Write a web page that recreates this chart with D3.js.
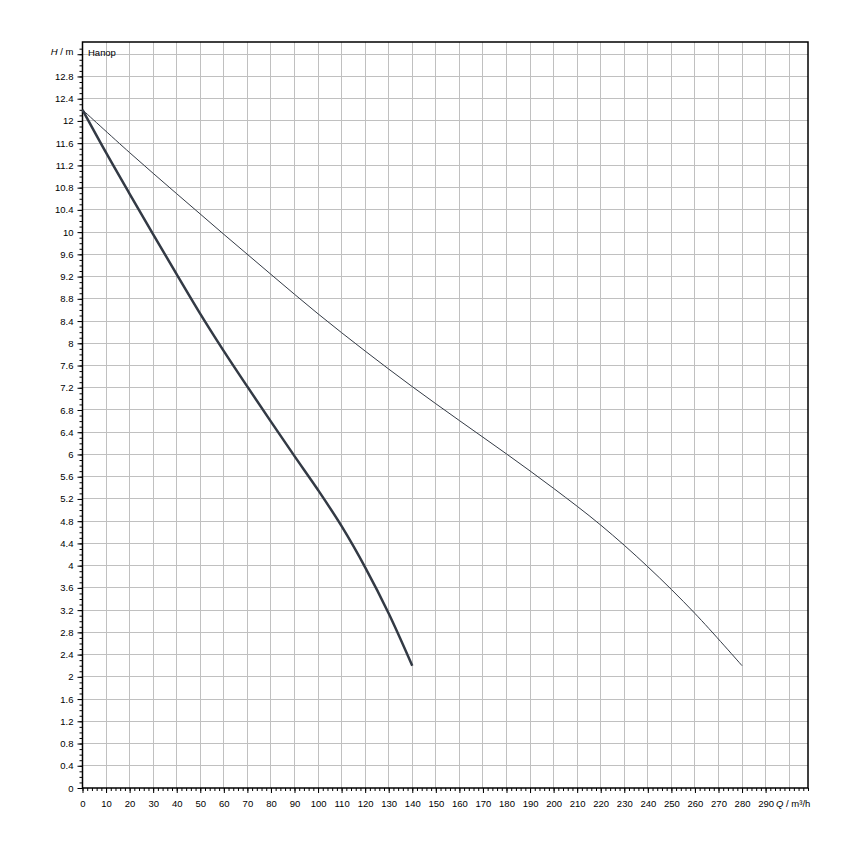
<!DOCTYPE html>
<html>
<head>
<meta charset="utf-8">
<script src="https://cdn.jsdelivr.net/npm/d3@7"></script>
<style>
  html, body { margin: 0; padding: 0; background: #fff; }
  svg { display: block; }
  text { font-family: "Liberation Sans", Arial, sans-serif; font-size: 9.5px; fill: #000; }
</style>
</head>
<body>
<svg id="chart" width="850" height="850"></svg>
<script>
// ---- data ----
const singleQ = [0, 10, 20, 30, 40, 50, 60, 70, 80, 90, 100, 110, 120, 130, 140];
const singleH = [12.2, 11.43, 10.69, 9.96, 9.24, 8.53, 7.86, 7.22, 6.59, 5.97, 5.36, 4.71, 3.97, 3.14, 2.2];
const parallelQ = [0, 20, 40, 60, 80, 100, 120, 140, 160, 180, 200, 220, 240, 260, 280];
const parallelH = [12.2, 11.43, 10.69, 9.96, 9.24, 8.53, 7.86, 7.22, 6.61, 6.01, 5.39, 4.73, 3.98, 3.14, 2.2];
const xTickValues = d3.range(0, 300, 10);      // labelled 0..290
const yTickValues = d3.range(0, 33).map(i => +(i * 0.4).toFixed(1)); // 0..12.8
const curveTitle = "Напор";

// ---- layout ----
const FONT = "Liberation Sans, Arial, sans-serif";
const svg = d3.select("#chart");
const L = 82.5, R = 808, T = 42, B = 788;
const x = d3.scaleLinear().domain([0, 308]).range([L, R]);
const y = d3.scaleLinear().domain([0, 13.42]).range([B, T]);

const gridColor = "#c0c0c0";
const lineColor = "#333a45";

// grid
const g = svg.append("g");
g.selectAll("line.vx").data(d3.range(10, 308, 10)).enter().append("line")
  .attr("x1", d => x(d)).attr("x2", d => x(d)).attr("y1", T).attr("y2", B)
  .attr("stroke", gridColor).attr("stroke-width", 1).attr("shape-rendering", "crispEdges");
g.selectAll("line.hy").data(d3.range(1, 34).map(i => +(i * 0.4).toFixed(1))).enter().append("line")
  .attr("x1", L).attr("x2", R).attr("y1", d => y(d)).attr("y2", d => y(d))
  .attr("stroke", gridColor).attr("stroke-width", 1).attr("shape-rendering", "crispEdges");

// frame
svg.append("rect").attr("x", L).attr("y", T).attr("width", R - L).attr("height", B - T)
  .attr("fill", "none").attr("stroke", "#000").attr("stroke-width", 1.5);

// x axis (major + minor ticks)
const xMinor = d3.range(0, 308.01, 2);
svg.append("g").attr("transform", `translate(0,${B})`)
  .call(d3.axisBottom(x).tickValues(xMinor).tickSize(3).tickFormat(""))
  .call(a => a.select(".domain").remove())
  .call(a => a.selectAll("line").attr("stroke", "#000"));
svg.append("g").attr("transform", `translate(0,${B})`)
  .call(d3.axisBottom(x).tickValues(xTickValues).tickSize(5).tickPadding(7).tickFormat(d3.format("d")))
  .call(a => a.select(".domain").remove())
  .call(a => a.selectAll("line").attr("stroke", "#000"))
  .call(a => a.selectAll("text").attr("font-family", FONT).attr("font-size", 9.5));

// y axis
const yMinor = d3.range(0, 134).map(i => i / 10);
svg.append("g").attr("transform", `translate(${L},0)`)
  .call(d3.axisLeft(y).tickValues(yMinor).tickSize(3).tickFormat(""))
  .call(a => a.select(".domain").remove())
  .call(a => a.selectAll("line").attr("stroke", "#000"));
svg.append("g").attr("transform", `translate(${L},0)`)
  .call(d3.axisLeft(y).tickValues(yTickValues.concat([13.2])).tickSize(5).tickPadding(4)
    .tickFormat(d => d > 13 ? "" : d3.format("~g")(d)))
  .call(a => a.select(".domain").remove())
  .call(a => a.selectAll("line").attr("stroke", "#000"))
  .call(a => a.selectAll("text").attr("font-family", FONT).attr("font-size", 9.5));

// axis titles
const yt = svg.append("text").attr("x", 73.5).attr("y", 54.5).attr("text-anchor", "end");
yt.append("tspan").attr("font-style", "italic").text("H");
yt.append("tspan").text(" / m");
const xt = svg.append("text").attr("x", 776).attr("y", B + 18.5).attr("text-anchor", "start");
xt.append("tspan").attr("font-style", "italic").text("Q");
xt.append("tspan").text(" / m³/h");

svg.append("text").attr("x", 88).attr("y", 55.5).text(curveTitle);

// curves
const line = d3.line().x(d => x(d[0])).y(d => y(d[1])).curve(d3.curveCatmullRom.alpha(0.5));
svg.append("path").datum(parallelQ.map((q, i) => [q, parallelH[i]]))
  .attr("d", line).attr("fill", "none").attr("stroke", lineColor).attr("stroke-width", 1);
svg.append("path").datum(singleQ.map((q, i) => [q, singleH[i]]))
  .attr("d", line).attr("fill", "none").attr("stroke", lineColor).attr("stroke-width", 2.5);
</script>
</body>
</html>
